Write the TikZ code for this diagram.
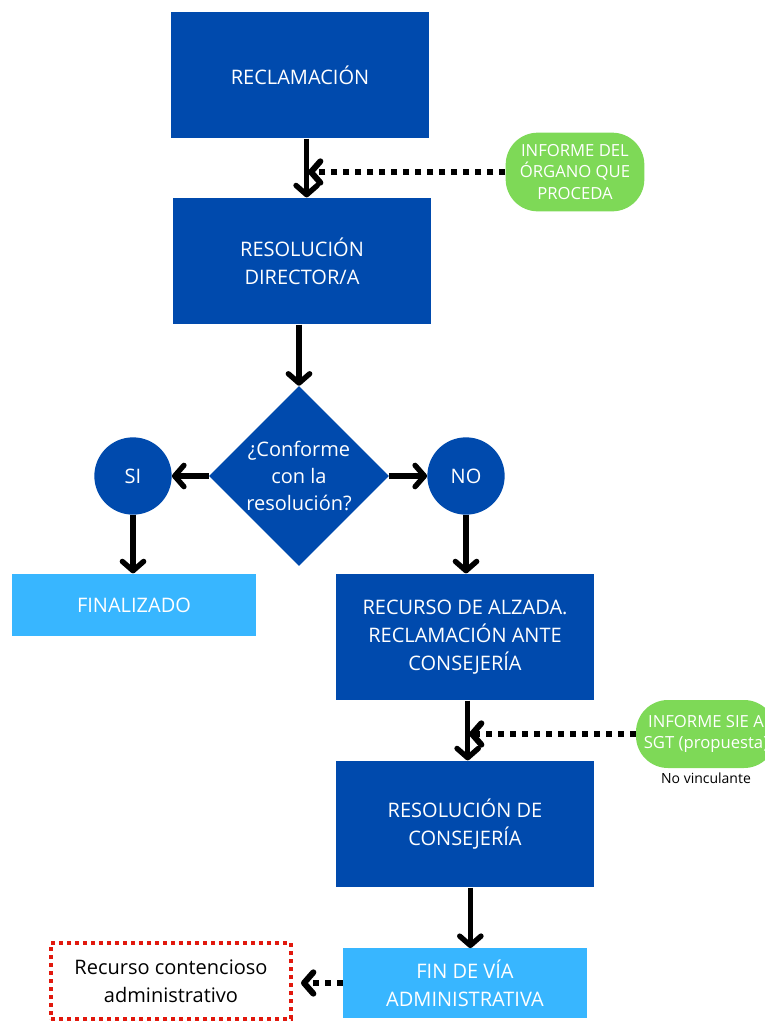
\documentclass[tikz,border=0pt]{standalone}
\usepackage{fontspec}
\setmainfont{Open Sans}
\usetikzlibrary{arrows.meta, shapes.geometric, positioning}

\definecolor{darkblue}{HTML}{004AAD}
\definecolor{lightblue}{HTML}{38B6FF}
\definecolor{pillgreen}{HTML}{7ED957}
\definecolor{dotred}{HTML}{E1190E}

\begin{document}
\begin{tikzpicture}[x=0.75pt,y=-0.75pt,
  >={Straight Barb[length=7pt,width=16pt,round]},
  box/.style={rectangle, fill=darkblue, text=white, align=center,
    minimum width=193pt, minimum height=95pt, font=\fontsize{15}{21}\selectfont},
  endbox/.style={rectangle, fill=lightblue, text=white, align=center,
    minimum width=183pt, font=\fontsize{15}{21}\selectfont},
  answer/.style={circle, fill=darkblue, text=white, minimum size=58pt,
    inner sep=0pt, font=\fontsize{15}{21}\selectfont},
  decision/.style={diamond, fill=darkblue, minimum width=135pt,
    minimum height=135pt, inner sep=0pt},
  report/.style={rectangle, rounded corners=24pt, fill=pillgreen, text=white,
    align=center, inner sep=2pt, font=\fontsize{12.5}{16}\selectfont},
  flow/.style={->, line width=4pt},
  hint/.style={->, line width=4.5pt, dash pattern=on 4.5pt off 4.5pt}]
\useasboundingbox (0,0) rectangle (764,1021);

% define the boxes of the procedure
  \node[box]  (recl)    at (300,75)  {RECLAMACIÓN};
  \node[box]  (resdir)  at (302,261) {RESOLUCIÓN\\DIRECTOR/A};
  \node[decision, label={[text=white, align=center,
      font=\fontsize{15}{20.5}\selectfont]center:¿Conforme\\con la\\resolución?}]
              (conf)    at (299,476) {};
  \node[answer] (si)    at (133,476) {SI};
  \node[answer] (no)    at (466,476) {NO};
  \node[endbox, minimum height=47pt] (final) at (134,605) {FINALIZADO};
  \node[box]  (alzada)  at (465,637) {RECURSO DE ALZADA.\\RECLAMACIÓN ANTE\\CONSEJERÍA};
  \node[box]  (rescons) at (465,824) {RESOLUCIÓN DE\\CONSEJERÍA};
  \node[endbox, minimum height=52pt] (finvia) at (465,983) {FIN DE VÍA\\ADMINISTRATIVA};
  \node[rectangle, draw=dotred, line width=3pt, dash pattern=on 3pt off 3pt,
      minimum width=180pt, minimum height=57pt, align=center,
      font=\fontsize{15}{21}\selectfont] (contencioso) at (171,981)
      {Recurso contencioso\\administrativo};

% define the reports
  \node[report, minimum width=104pt, minimum height=59pt] (organo) at (575,172)
      {INFORME DEL\\ÓRGANO QUE\\PROCEDA};
  \node[report, minimum width=105pt, minimum height=51pt] (sie) at (706,734)
      {INFORME SIE A\\SGT (propuesta)};
  \node[font=\fontsize{10.5}{13}\selectfont] (vinc) [below=0pt of sie] {No vinculante};

% define the links
  \draw[flow] ([xshift=5pt]recl.south) -- coordinate (m1) ([xshift=5pt]recl.south |- resdir.north);
  \draw[flow] (conf.north |- resdir.south) -- (conf.north);
  \draw[flow] (conf.west) -- (si.east);
  \draw[flow] (conf.east) -- (no.west);
  \draw[flow] (si.south) -- (si.south |- final.north);
  \draw[flow] (no.south) -- (no.south |- alzada.north);
  \draw[flow] ([xshift=2pt]alzada.south) -- coordinate (m2) ([xshift=2pt]alzada.south |- rescons.north);
  \draw[flow] ([xshift=4pt]rescons.south) -- ([xshift=4pt]rescons.south |- finvia.north);

  \draw[hint, shorten >=1pt] (organo.west) -- (organo.west -| m1);
  \draw[hint, shorten >=1pt] (sie.west) -- (sie.west -| m2);
  \draw[hint, shorten >=6pt] (finvia.west) -- (finvia.west -| contencioso.east);

\end{tikzpicture}
\end{document}
